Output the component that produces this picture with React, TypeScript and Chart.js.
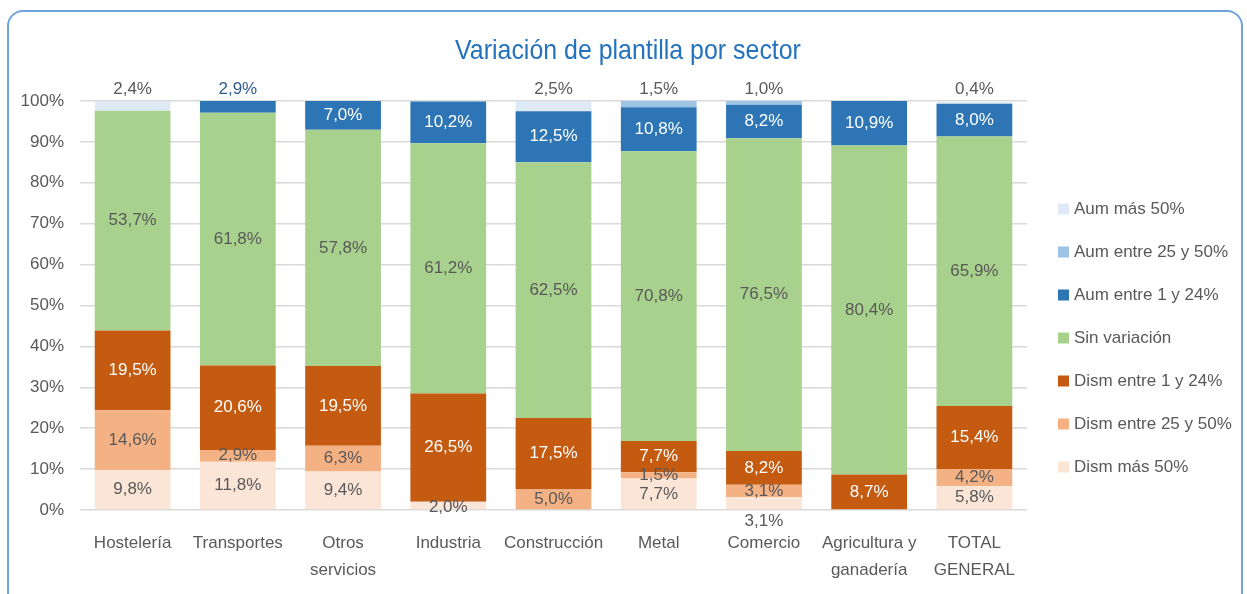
import React, { useEffect, useRef } from "react";
import { Chart, registerables } from "chart.js";

Chart.register(...registerables);

const CATEGORIES: (string | string[])[] = [
  "Hostelería",
  "Transportes",
  ["Otros", "servicios"],
  "Industria",
  "Construcción",
  "Metal",
  "Comercio",
  ["Agricultura y", "ganadería"],
  ["TOTAL", "GENERAL"],
];

const SERIES_NAMES = [
  "Dism más 50%",
  "Dism entre 25 y 50%",
  "Dism entre 1 y 24%",
  "Sin variación",
  "Aum entre 1 y 24%",
  "Aum entre 25 y 50%",
  "Aum más 50%",
];

const DISM_MAS_50 = [9.8, 11.8, 9.4, 2.0, null, 7.7, 3.1, null, 5.8];
const DISM_25_50 = [14.6, 2.9, 6.3, null, 5.0, 1.5, 3.1, null, 4.2];
const DISM_1_24 = [19.5, 20.6, 19.5, 26.5, 17.5, 7.7, 8.2, 8.7, 15.4];
const SIN_VARIACION = [53.7, 61.8, 57.8, 61.2, 62.5, 70.8, 76.5, 80.4, 65.9];
const AUM_1_24 = [null, 2.9, 7.0, 10.2, 12.5, 10.8, 8.2, 10.9, 8.0];
const AUM_25_50 = [null, null, null, null, null, 1.5, 1.0, null, null];
const AUM_MAS_50 = [2.4, null, null, null, 2.5, null, null, null, 0.4];

const Y_TICKS = [0, 10, 20, 30, 40, 50, 60, 70, 80, 90, 100];

const COLORS = ["#FBE5D6", "#F4B183", "#C55A11", "#A9D18E", "#2E75B6", "#9DC3E6", "#DEEBF7"];
const LABEL_COLORS = ["#595959", "#595959", "#FFFFFF", "#595959", "#FFFFFF", "#595959", "#595959"];
const ABOVE_COLORS = ["#595959", "#595959", "#595959", "#595959", "#2F5E8E", "#595959", "#595959"];

const FONT = "'Liberation Sans Narrow', 'Liberation Sans', Arial, sans-serif";

const fmt = (v: number) => v.toFixed(1).replace(".", ",") + "%";

const labelsPlugin = {
  id: "segLabels",
  afterDatasetsDraw(chart: any) {
    const { ctx, chartArea } = chart;
    const ds = chart.data.datasets;
    ctx.save();
    ctx.font = `17px ${FONT}`;
    ctx.textAlign = "center";
    ctx.textBaseline = "middle";
    for (let i = 0; i < ds.length; i++) {
      const meta = chart.getDatasetMeta(i);
      ds[i].data.forEach((v: number | null, j: number) => {
        if (!v) return;
        const bar: any = meta.data[j];
        let y = (bar.y + bar.base) / 2;
        let color = LABEL_COLORS[i];
        let isTop = true;
        for (let k = i + 1; k < ds.length; k++) if (ds[k].data[j]) isTop = false;
        let isBottom = true;
        for (let k = 0; k < i; k++) if (ds[k].data[j]) isBottom = false;
        let nextVal: number | null = null;
        for (let k = i + 1; k < ds.length; k++) if (ds[k].data[j]) { nextVal = ds[k].data[j]; break; }
        if (isTop && v < 3) {
          y = chartArea.top - 12;
          color = ABOVE_COLORS[i];
        } else if (isBottom && v < 3.5 && nextVal !== null && nextVal < 5) {
          y = chartArea.bottom + 11;
        } else if (isBottom && v < 3.5) {
          y = y + 2;
        }
        ctx.fillStyle = color;
        ctx.fillText(fmt(v), bar.x, y);
      });
    }
    ctx.restore();
  },
};

const decorPlugin = {
  id: "decor",
  afterDraw(chart: any) {
    const { ctx } = chart;
    ctx.save();
    ctx.font = `28px ${FONT}`;
    ctx.fillStyle = "#2272BE";
    ctx.textAlign = "center";
    ctx.textBaseline = "middle";
    ctx.translate(628, 51);
    ctx.scale(0.89, 1);
    ctx.fillText("Variación de plantilla por sector", 0, 0);
    ctx.restore();
    ctx.save();
    // legend (reverse stack order)
    ctx.font = `17px ${FONT}`;
    ctx.textAlign = "left";
    ctx.textBaseline = "middle";
    const n = SERIES_NAMES.length;
    for (let k = 0; k < n; k++) {
      const idx = n - 1 - k;
      const yc = 209 + k * 43;
      ctx.fillStyle = COLORS[idx];
      ctx.fillRect(1058, yc - 5.5, 11, 11);
      ctx.fillStyle = "#595959";
      ctx.fillText(SERIES_NAMES[idx], 1074, yc);
    }
    ctx.restore();
  },
};

export default function App() {
  const ref = useRef<HTMLCanvasElement>(null);
  useEffect(() => {
    if (!ref.current) return;
    const series = [DISM_MAS_50, DISM_25_50, DISM_1_24, SIN_VARIACION, AUM_1_24, AUM_25_50, AUM_MAS_50];
    const chart = new Chart(ref.current, {
      type: "bar",
      data: {
        labels: CATEGORIES,
        datasets: series.map((d, i) => ({
          label: SERIES_NAMES[i],
          data: d,
          backgroundColor: COLORS[i],
          borderWidth: 0,
          barPercentage: 0.72,
          categoryPercentage: 1,
        })),
      },
      options: {
        responsive: false,
        animation: false,
        devicePixelRatio: 1,
        layout: { padding: { top: 101, right: 220, left: 0, bottom: 0 } },
        plugins: {
          legend: { display: false },
          title: { display: false },
          tooltip: { enabled: false },
        },
        scales: {
          x: {
            stacked: true,
            grid: { display: false },
            border: { display: false },
            ticks: {
              color: "#595959",
              font: { family: FONT, size: 17, lineHeight: 1.6 },
              padding: 12,
              maxRotation: 0,
              autoSkip: false,
            },
            afterFit(scale: any) {
              scale.height = 84;
            },
          },
          y: {
            stacked: true,
            min: 0,
            max: 100,
            afterBuildTicks(scale: any) {
              scale.ticks = Y_TICKS.map((v) => ({ value: v }));
            },
            grid: { color: "#D9D9D9", lineWidth: 1.5, drawTicks: false },
            border: { display: false },
            ticks: {
              color: "#595959",
              font: { family: FONT, size: 17 },
              padding: 16,
              callback: (v: any) => v + "%",
            },
            afterFit(scale: any) {
              scale.width = 80;
            },
          },
        },
      },
      plugins: [labelsPlugin, decorPlugin],
    } as any);
    return () => chart.destroy();
  }, []);
  return (
    <div style={{ position: "fixed", left: 0, top: 0, width: 1247, height: 594, background: "#fff", overflow: "hidden" }}>
      <div
        style={{
          position: "absolute",
          left: 7,
          top: 10,
          width: 1236,
          height: 620,
          border: "2px solid #6FA3DC",
          borderRadius: 16,
          boxSizing: "border-box",
        }}
      />
      <canvas ref={ref} width={1247} height={594} style={{ position: "absolute", left: 0, top: 0 }} />
    </div>
  );
}
